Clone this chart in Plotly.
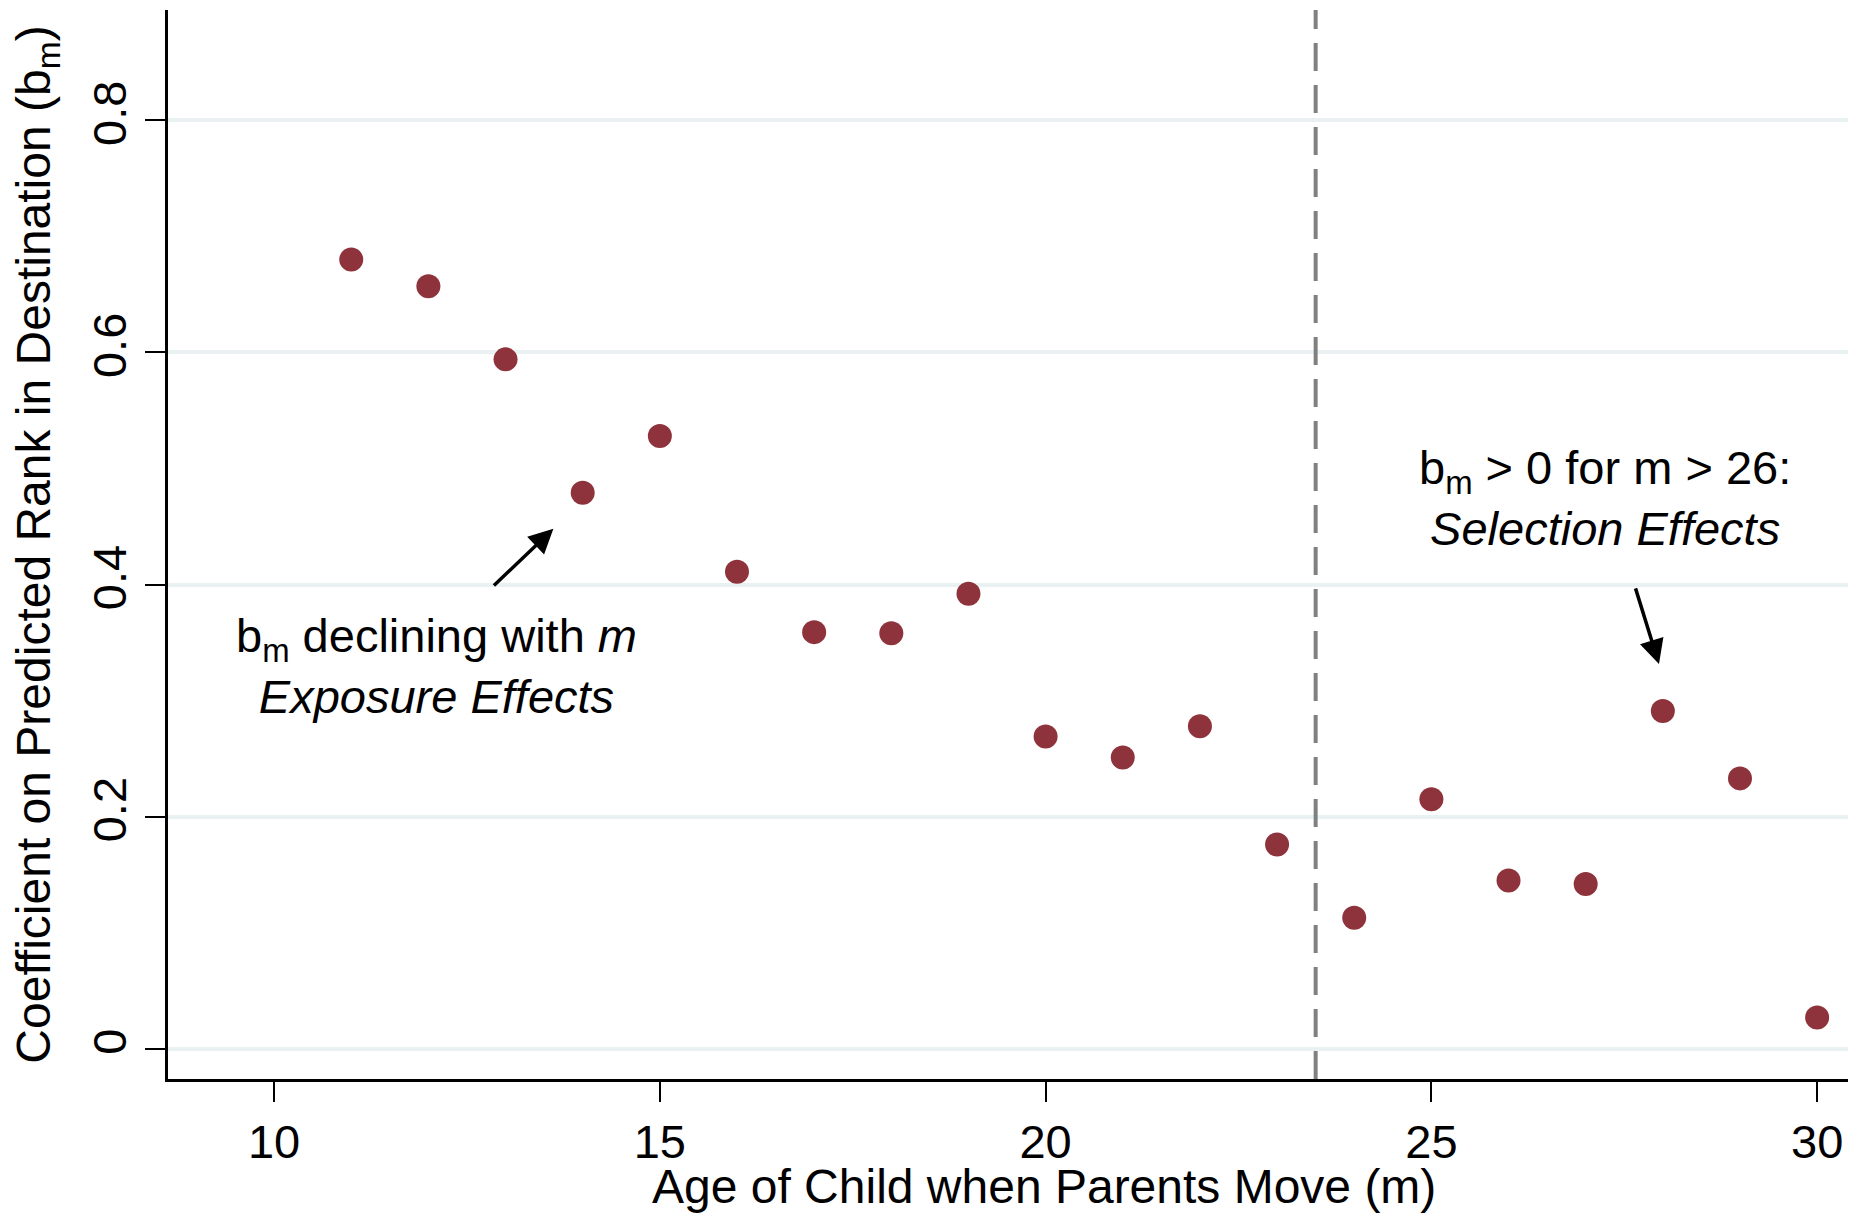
import plotly.graph_objects as go

ages = [11, 12, 13, 14, 15, 16, 17, 18, 19, 20, 21, 22, 23, 24, 25, 26, 27, 28, 29, 30]
coef = [0.680, 0.657, 0.594, 0.479, 0.528, 0.411, 0.359, 0.358, 0.392, 0.269,
        0.251, 0.278, 0.176, 0.113, 0.215, 0.145, 0.142, 0.291, 0.233, 0.027]
x_ticks = [10, 15, 20, 25, 30]
y_ticks = [0, 0.2, 0.4, 0.6, 0.8]
y_tick_labels = ["0", "0.2", "0.4", "0.6", "0.8"]
cutoff_age = 23.5

FONT = "Liberation Sans, Arial, Helvetica, sans-serif"
FS = 47

fig = go.Figure()
fig.add_trace(go.Scatter(
    x=ages, y=coef, mode="markers",
    marker=dict(size=24, color="#8E333B", line=dict(width=0)),
    showlegend=False, hoverinfo="x+y",
))

fig.add_shape(type="line", xref="x", yref="paper", x0=cutoff_age, x1=cutoff_age, y0=0, y1=1,
              line=dict(color="#808080", width=4, dash="28px,14px"), layer="above")

# Text annotations
fig.add_annotation(x=12.11, y=0.330, xref="x", yref="y", showarrow=False,
                   text="b<sub>m</sub> declining with <i>m</i><br><i>Exposure Effects</i>",
                   align="center", font=dict(family=FONT, size=FS, color="black"))
fig.add_annotation(x=27.25, y=0.4745, xref="x", yref="y", showarrow=False,
                   text="b<sub>m</sub> > 0 for m > 26:<br><i>Selection Effects</i>",
                   align="center", font=dict(family=FONT, size=FS, color="black"))

# Arrows
fig.add_annotation(x=13.62, y=0.448, ax=12.83, ay=0.398, xref="x", yref="y",
                   axref="x", ayref="y", text="", showarrow=True,
                   arrowhead=2, arrowsize=1.4, arrowwidth=3.5, arrowcolor="black")
fig.add_annotation(x=27.95, y=0.3315, ax=27.64, ay=0.398, xref="x", yref="y",
                   axref="x", ayref="y", text="", showarrow=True,
                   arrowhead=2, arrowsize=1.4, arrowwidth=3.5, arrowcolor="black")

# X axis title (offset to the right as in the reference)
fig.add_annotation(x=0.5214, y=-0.101, xref="paper", yref="paper", showarrow=False,
                   text="Age of Child when Parents Move (m)", xanchor="center", yanchor="middle",
                   font=dict(family=FONT, size=48, color="black"))

fig.update_layout(
    width=1860, height=1214,
    margin=dict(l=168, r=12, t=10, b=135),
    plot_bgcolor="white", paper_bgcolor="white",
    font=dict(family=FONT, size=FS, color="black"),
    xaxis=dict(
        range=[8.625, 30.4], tickvals=x_ticks, ticktext=[str(v) for v in x_ticks],
        showgrid=False, zeroline=False,
        showline=True, linecolor="black", linewidth=2.5,
        ticks="outside", ticklen=20, tickwidth=2, tickcolor="black",
        tickfont=dict(family=FONT, size=FS, color="black"),
    ),
    yaxis=dict(
        range=[-0.026, 0.895], tickvals=y_ticks, ticktext=y_tick_labels,
        tickangle=-90,
        showgrid=True, gridcolor="#EAF1F2", gridwidth=4,
        zeroline=False,
        showline=True, linecolor="black", linewidth=2.5,
        ticks="outside", ticklen=20, tickwidth=2, tickcolor="black",
        tickfont=dict(family=FONT, size=FS, color="black"),
        title=dict(text="Coefficient on Predicted Rank in Destination (b<sub>m</sub>)",
                   font=dict(family=FONT, size=48, color="black"), standoff=18),
    ),
)

fig.write_html("out.html")
